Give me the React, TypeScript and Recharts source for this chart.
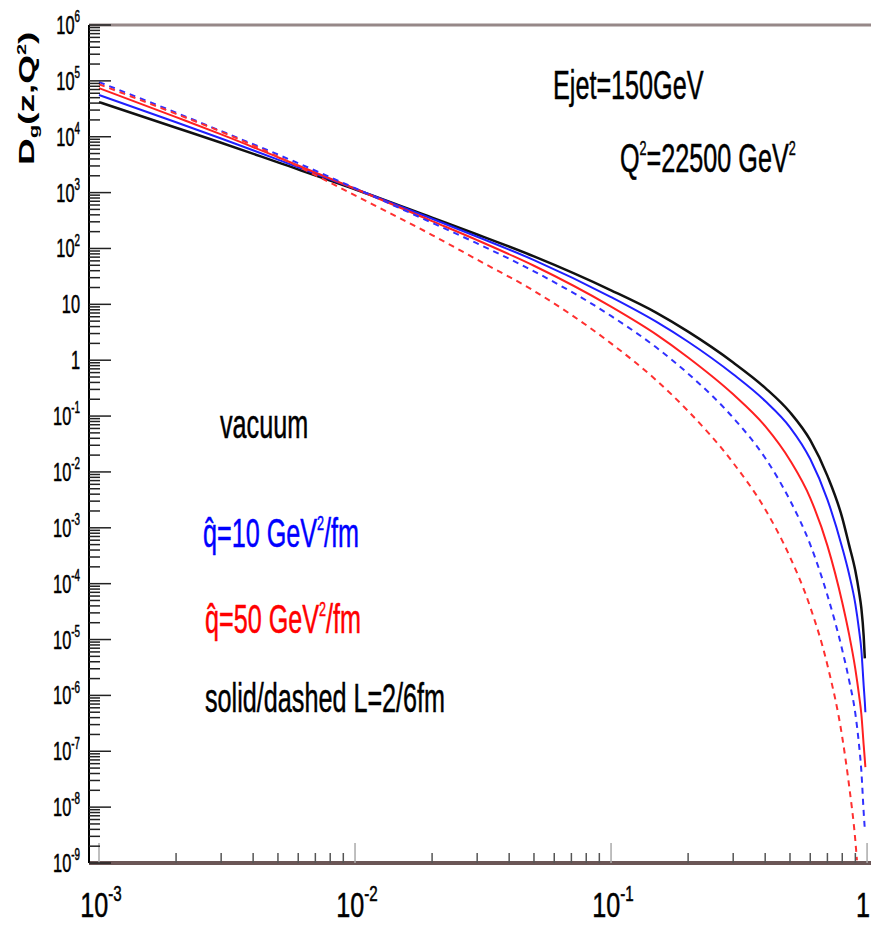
import React from "react";
import { LineChart, Line, XAxis, YAxis, ReferenceLine } from "recharts";

const W = 871;
const H = 945;
const FONT = '"Liberation Sans", Arial, sans-serif';
// the original figure is squashed sideways, so all text is narrowed
const SX = 0.63;

// z values shared by all curves up to z = 0.9
const zBase = [0.001, 0.002, 0.003, 0.005, 0.01, 0.02, 0.03, 0.05, 0.1, 0.15, 0.2, 0.3, 0.4, 0.5, 0.6, 0.7, 0.8, 0.85, 0.9];

// vacuum (black solid)
const zVacuum = [...zBase, 0.93, 0.95, 0.97, 0.98];
const dVacuum = [4.17e4, 1.45e4, 7.8e3, 3.47e3, 1.15e3, 355, 178, 72, 17.8, 7.1, 3.24, 0.91, 0.32, 0.117, 0.037, 8.5e-3, 1.51e-3, 5.0e-4, 1.7e-4, 7.2e-5, 3.6e-5, 1.15e-5, 4.6e-6];

// qhat = 10, L = 2 fm (blue solid)
const zQ10L2 = [...zBase, 0.93, 0.95, 0.97, 0.98, 0.985];
const dQ10L2 = [5.6e4, 1.82e4, 9.3e3, 3.9e3, 1.17e3, 340, 162, 62, 13.5, 4.9, 2.14, 0.56, 0.186, 0.063, 0.017, 3.2e-3, 4.4e-4, 1.5e-4, 4.3e-5, 1.5e-5, 6.5e-6, 1.5e-6, 7.6e-7, 5.0e-7];

// qhat = 50, L = 2 fm (red solid)
const zQ50L2 = [...zBase, 0.93, 0.95, 0.97, 0.98, 0.985];
const dQ50L2 = [7.4e4, 2.24e4, 1.1e4, 4.3e3, 1.17e3, 309, 141, 49, 9.1, 2.9, 1.12, 0.245, 0.066, 0.0162, 3.4e-3, 4.8e-4, 4.6e-5, 1.26e-5, 2.95e-6, 1.02e-6, 4.6e-7, 1.29e-7, 7.1e-8, 5.2e-8];

// qhat = 10, L = 6 fm (blue dashed)
const zQ10L6 = [...zBase, 0.93, 0.95, 0.97, 0.98];
const dQ10L6 = [9.5e4, 2.7e4, 1.26e4, 4.8e3, 1.2e3, 288, 123, 39, 6.2, 1.7, 0.575, 0.093, 0.0178, 3.1e-3, 5.0e-4, 6.2e-5, 6.5e-6, 1.9e-6, 4.7e-7, 1.32e-7, 4.4e-8, 8.1e-9, 4.0e-9];

// qhat = 50, L = 6 fm (red dashed)
const zQ50L6 = [...zBase, 0.913];
const dQ50L6 = [8.7e4, 2.57e4, 1.23e4, 4.4e3, 890, 174, 63, 17.4, 2.0, 0.44, 0.123, 0.0145, 2.14e-3, 3.0e-4, 3.8e-5, 3.5e-6, 1.78e-7, 2.5e-8, 2.5e-9, 1.12e-9];

// axes
const xDecades = [-3, -2, -1, 0];
const yDecades = [-9, -8, -7, -6, -5, -4, -3, -2, -1, 0, 1, 2, 3, 4, 5, 6];
const minorSteps = [2, 3, 4, 5, 6, 7, 8, 9];

const pairs = (zs: number[], ds: number[]) => zs.map((z, i) => ({ z, d: ds[i] }));

const logTicks = (decades: number[]) => {
  const out: number[] = [];
  decades.forEach((e, i) => {
    out.push(Number((10 ** e).toPrecision(3)));
    if (i < decades.length - 1) minorSteps.forEach((m) => out.push(Number((m * 10 ** e).toPrecision(3))));
  });
  return out;
};

const xTicks = logTicks(xDecades);
const yTicks = logTicks(yDecades);

const isDecade = (v: number) => Math.abs(Math.log10(v) - Math.round(Math.log10(v))) < 1e-6;

const Sq = ({ x, y, size, sx = SX, anchor = "start", fill = "#000", weight = "normal", rotate = 0, bold = 0.5, children }: any) => (
  <text
    transform={`translate(${x},${y}) scale(${sx},1)${rotate ? ` rotate(${rotate})` : ""}`}
    fontFamily={FONT}
    fontSize={size}
    textAnchor={anchor}
    fill={fill}
    stroke={fill}
    strokeWidth={bold}
    fontWeight={weight}
  >
    {children}
  </text>
);

const PowLabel = ({ v, x, y, size, sx, anchor }: any) => {
  const e = Math.round(Math.log10(v));
  if (e === 0 || e === 1) {
    return <Sq x={x} y={y} size={size} sx={sx} anchor={anchor}>{e === 0 ? "1" : "10"}</Sq>;
  }
  return (
    <Sq x={x} y={y} size={size} sx={sx} anchor={anchor}>
      10
      <tspan dy={-size * 0.45} fontSize={size * 0.6}>{e}</tspan>
    </Sq>
  );
};

const YTick = (props: any) => {
  const { x, y, payload } = props;
  const major = isDecade(payload.value);
  return (
    <g>
      <line x1={x} y1={y} x2={x + (major ? 22 : 11)} y2={y} stroke="#222" strokeWidth={1.5} />
      {major && <PowLabel v={payload.value} x={x - 9} y={y + 9} size={26} sx={SX} anchor="end" />}
    </g>
  );
};

const XTick = (props: any) => {
  const { x, y, payload } = props;
  const major = isDecade(payload.value);
  const last = payload.value === 1;
  return (
    <g>
      <line x1={x} y1={y} x2={x} y2={y - (major ? 20 : 10)} stroke={major ? "#aaa" : "#555"} strokeWidth={1.5} />
      {major && (
        <PowLabel v={payload.value} x={last ? 870 : x + 2} y={y + 54} size={36} sx={0.7} anchor={last ? "end" : "middle"} />
      )}
    </g>
  );
};

const series = [
  { key: "vac", z: zVacuum, d: dVacuum, color: "#111", dash: undefined, w: 2.5 },
  { key: "q10L2", z: zQ10L2, d: dQ10L2, color: "#1f1fff", dash: undefined, w: 2 },
  { key: "q50L2", z: zQ50L2, d: dQ50L2, color: "#ff2020", dash: undefined, w: 2 },
  { key: "q10L6", z: zQ10L6, d: dQ10L6, color: "#3030ff", dash: "6 5", w: 2 },
  { key: "q50L6", z: zQ50L6, d: dQ50L6, color: "#ff3030", dash: "6 5", w: 2 },
];

export default function App() {
  const f = 40;
  const up = f * 0.42;
  const sf = f * 0.5;
  return (
    <div style={{ position: "relative", width: W, height: H, background: "#fff" }}>
      <style>{"body{margin:0}"}</style>
      <LineChart width={W} height={H} margin={{ top: 25, right: 0, bottom: 0, left: 0 }}>
        <XAxis
          type="number"
          dataKey="z"
          scale="log"
          domain={[0.000914, 1.036]}
          allowDataOverflow
          ticks={xTicks}
          interval={0}
          tick={XTick}
          tickLine={false}
          tickSize={0}
          tickMargin={0}
          height={82}
          axisLine={{ stroke: "#6b5656", strokeWidth: 4 }}
        />
        <YAxis
          type="number"
          scale="log"
          domain={[1e-9, 1e6]}
          allowDataOverflow
          ticks={yTicks}
          interval={0}
          tick={YTick}
          tickLine={false}
          tickSize={0}
          tickMargin={0}
          width={89}
          axisLine={{ stroke: "#000", strokeWidth: 2 }}
        />
        <ReferenceLine y={1e6} stroke="#968888" strokeWidth={3} />
        {series.map((s) => (
          <Line
            key={s.key}
            data={pairs(s.z, s.d)}
            dataKey="d"
            type="monotone"
            stroke={s.color}
            strokeWidth={s.w}
            strokeDasharray={s.dash}
            dot={false}
            activeDot={false}
            isAnimationActive={false}
          />
        ))}
      </LineChart>
      <svg width={W} height={H} style={{ position: "absolute", left: 0, top: 0, pointerEvents: "none" }}>
        <Sq x={34} y={165} size={37} sx={0.62} rotate={-90} weight="bold" bold={0}>
          D<tspan dy={7} fontSize={22}>g</tspan>
          <tspan dy={-7}>(z,Q</tspan>
          <tspan dy={-13} fontSize={20}>2</tspan>
          <tspan dy={13}>)</tspan>
        </Sq>
        <Sq x={553} y={99} size={f}>Ejet=150GeV</Sq>
        <Sq x={620} y={172} size={f}>
          Q<tspan dy={-up} fontSize={sf}>2</tspan>
          <tspan dy={up}>=22500 GeV</tspan>
          <tspan dy={-up} fontSize={sf}>2</tspan>
        </Sq>
        <Sq x={220} y={438} size={f}>vacuum</Sq>
        <Sq x={203} y={547} size={f} fill="#0000ff">
          q̂=10 GeV<tspan dy={-up} fontSize={sf}>2</tspan>
          <tspan dy={up}>/fm</tspan>
        </Sq>
        <Sq x={205} y={633} size={f} fill="#ff0000">
          q̂=50 GeV<tspan dy={-up} fontSize={sf}>2</tspan>
          <tspan dy={up}>/fm</tspan>
        </Sq>
        <Sq x={205} y={712} size={f}>solid/dashed L=2/6fm</Sq>
      </svg>
    </div>
  );
}
